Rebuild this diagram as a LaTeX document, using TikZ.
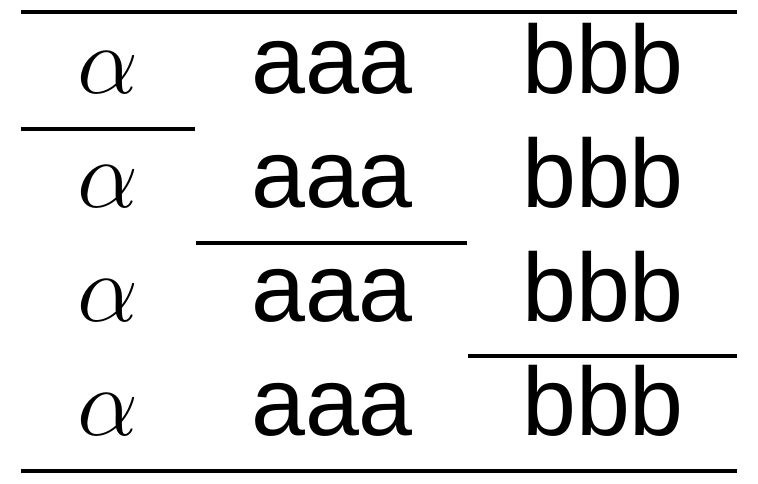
\RequirePackage{fix-cm}
\documentclass[tikz,border=0pt]{standalone}
\usepackage{fontspec}
\setmainfont{Liberation Sans}
\begin{document}
\begin{tikzpicture}[x=1pt,y=-1pt,
  cell/.style={anchor=base,inner sep=0pt,font=\fontsize{97}{110}\selectfont},
  rule/.style={line width=4pt,line cap=butt}]
\useasboundingbox (0,0) rectangle (758,483);
\foreach \r/\b in {1/93,2/207,3/321,4/435}{
  \node[cell] (al\r) at (108,\b) {$\alpha$};
  \node[cell] (aa\r) at (332,\b) {aaa};
  \node[cell] (bb\r) at (603,\b) {bbb};
}
\draw[rule] (21,12) -- (737,12);
\draw[rule] (21,129) -- (195,129);
\draw[rule] (196,243) -- (467,243);
\draw[rule] (468,356) -- (737,356);
\draw[rule] (21,471) -- (737,471);
\end{tikzpicture}
\end{document}
